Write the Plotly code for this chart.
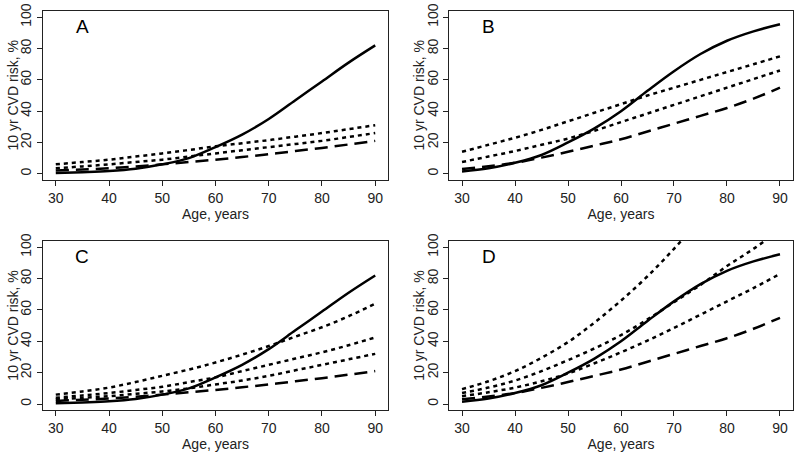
import plotly.graph_objects as go

ages = [30, 35, 40, 45, 50, 55, 60, 65, 70, 75, 80, 85, 90]

# Solid curves (same shape in A/C and in B/D)
solid_AC = [0.5, 1.0, 1.7, 3.2, 6.0, 10.0, 17.0, 25.0, 35.0, 47.0, 59.0, 71.0, 82.0]
solid_BD = [1.5, 3.5, 7.0, 12.0, 20.0, 29.0, 40.0, 53.0, 65.5, 76.5, 85.0, 91.0, 95.5]

# Dashed curves
dashed_AC = [2.0, 2.7, 3.5, 4.7, 6.0, 7.5, 9.0, 10.7, 12.5, 14.5, 16.5, 18.7, 21.0]
dashed_BD = [3.0, 4.8, 7.0, 10.3, 14.0, 18.0, 22.0, 27.0, 32.0, 37.0, 42.0, 48.0, 55.0]

# Dotted curves per panel
dotted_A1 = [6.0, 7.5, 9.0, 11.0, 13.0, 15.2, 17.5, 19.5, 21.5, 23.7, 26.0, 28.5, 31.0]
dotted_A2 = [3.5, 4.7, 6.0, 7.5, 9.0, 11.0, 13.0, 15.0, 17.0, 19.0, 21.0, 23.5, 26.0]

dotted_B1 = [14.0, 18.5, 23.0, 28.0, 33.5, 39.0, 44.5, 50.0, 55.0, 60.0, 65.0, 70.0, 75.0]
dotted_B2 = [7.5, 11.0, 14.5, 18.5, 22.5, 27.5, 33.0, 38.5, 44.0, 49.5, 55.0, 60.5, 66.0]

dotted_C1 = [6.0, 8.0, 10.5, 14.0, 18.0, 22.0, 26.5, 31.5, 37.0, 43.0, 49.0, 56.0, 64.0]
dotted_C2 = [4.0, 5.5, 7.0, 9.0, 11.0, 14.0, 17.0, 21.0, 25.0, 29.0, 33.0, 37.5, 42.5]
dotted_C3 = [3.0, 4.0, 5.0, 6.5, 8.0, 10.0, 12.5, 15.0, 18.0, 21.5, 25.0, 28.5, 32.0]

ages_D1 = [30, 35, 40, 45, 50, 55, 60, 65, 70, 75]
dotted_D1 = [9.5, 14.5, 21.0, 29.5, 39.5, 52.0, 66.0, 81.5, 99.0, 118.0]
dotted_D2 = [7.0, 10.5, 15.0, 21.0, 28.0, 35.5, 44.0, 54.0, 65.0, 76.0, 88.0, 99.0, 111.0]
dotted_D3 = [5.0, 7.5, 10.5, 14.5, 19.5, 26.0, 33.0, 40.5, 48.5, 57.0, 65.5, 74.0, 83.0]

x_ticks = [30, 40, 50, 60, 70, 80, 90]
y_ticks = [0, 20, 40, 60, 80, 100]
panel_labels = ["A", "B", "C", "D"]
x_title = "Age, years"
y_title = "10 yr CVD risk, %"

panels = [
    (solid_AC, dashed_AC, [(ages, dotted_A1), (ages, dotted_A2)]),
    (solid_BD, dashed_BD, [(ages, dotted_B1), (ages, dotted_B2)]),
    (solid_AC, dashed_AC, [(ages, dotted_C1), (ages, dotted_C2), (ages, dotted_C3)]),
    (solid_BD, dashed_BD, [(ages_D1, dotted_D1), (ages, dotted_D2), (ages, dotted_D3)]),
]

W, H = 800, 459
xdoms = [(43 / W, 388 / W), (449.3 / W, 792.7 / W)]
ydoms = [(1 - 180 / H, 1 - 11 / H), (1 - 410.3 / H, 1 - 241 / H)]
ytitle_x = [13 / W, 419 / W]

FONT = "Liberation Sans, Arial, sans-serif"
LW = 2.5

fig = go.Figure()
for i, (sol, das, dots) in enumerate(panels):
    n = "" if i == 0 else str(i + 1)
    xa, ya = "x" + n, "y" + n
    for ax_x, vals in dots:
        fig.add_trace(go.Scatter(x=ax_x, y=vals, mode="lines", xaxis=xa, yaxis=ya,
                                 line=dict(color="black", width=LW, dash="4px,4px", shape="spline"),
                                 showlegend=False, hoverinfo="skip"))
    fig.add_trace(go.Scatter(x=ages, y=das, mode="lines", xaxis=xa, yaxis=ya,
                             line=dict(color="black", width=LW, dash="13px,7px", shape="spline"),
                             showlegend=False, hoverinfo="skip"))
    fig.add_trace(go.Scatter(x=ages, y=sol, mode="lines", xaxis=xa, yaxis=ya,
                             line=dict(color="black", width=LW, shape="spline"),
                             showlegend=False, hoverinfo="skip"))
    col, row = i % 2, i // 2
    axcommon = dict(showline=True, mirror=True, linecolor="#222", linewidth=1,
                    ticks="outside", ticklen=5, tickwidth=1, tickcolor="#222",
                    showgrid=False, zeroline=False, fixedrange=True, automargin=False,
                    tickfont=dict(family=FONT, size=14, color="#222"),
                    title_font=dict(family=FONT, size=14, color="#222"))
    fig.update_layout(**{
        "xaxis" + n: dict(axcommon, domain=xdoms[col], anchor=ya, range=[27.6, 92.4],
                          tickvals=x_ticks, title=dict(text=x_title, standoff=2)),
        "yaxis" + n: dict(axcommon, domain=ydoms[row], anchor=xa, range=[-4, 104],
                          tickvals=y_ticks, tickangle=-90),
    })
    fig.add_annotation(x=ytitle_x[col], y=(ydoms[row][0] + ydoms[row][1]) / 2,
                       xref="paper", yref="paper", text=y_title, textangle=-90,
                       showarrow=False, xanchor="center", yanchor="middle",
                       font=dict(family=FONT, size=14, color="#222"))
    fig.add_annotation(x=35, y=94, xref=xa, yref=ya, text=panel_labels[i], showarrow=False,
                       font=dict(family=FONT, size=19, color="black"))

fig.update_layout(width=W, height=H, margin=dict(l=0, r=0, t=0, b=0, autoexpand=False),
                  paper_bgcolor="white", plot_bgcolor="white")
fig.write_html("out.html", config={"displayModeBar": False},
               post_script="document.body.style.margin='0';document.body.style.padding='0';")
